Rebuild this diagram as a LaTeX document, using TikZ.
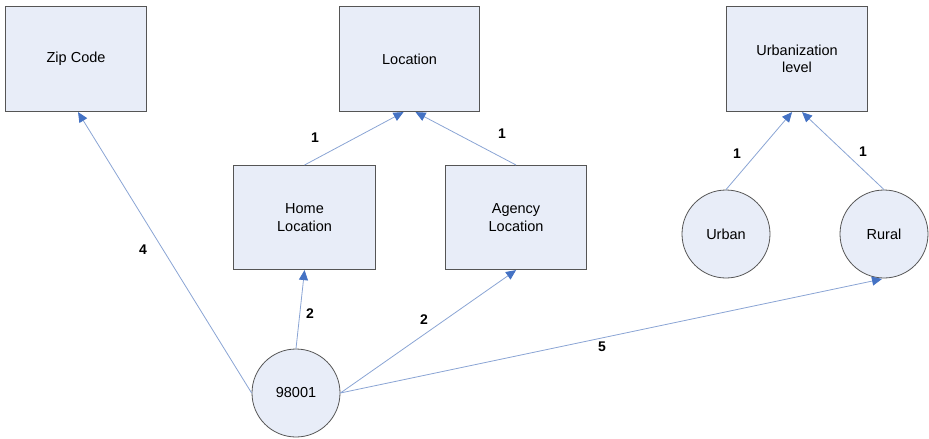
\documentclass[tikz,border=0pt]{standalone}
\usepackage{fontspec}
\setmainfont{Liberation Sans}
\usetikzlibrary{arrows.meta,calc}
\definecolor{boxfill}{HTML}{E8EDF8}
\definecolor{boxline}{HTML}{555555}
\definecolor{connc}{HTML}{8AA4D4}
\definecolor{tipc}{HTML}{4472C4}
\begin{document}
\begin{tikzpicture}[x=1pt,y=-1pt,
  box/.style={draw=boxline,fill=boxfill,line width=1.1pt,minimum width=141pt,minimum height=105pt,inner sep=0pt,align=center,font=\fontsize{14.5}{17.5}\selectfont,anchor=north west},
  circ/.style={draw=boxline,fill=boxfill,line width=0.8pt,circle,minimum size=88pt,inner sep=0pt,font=\fontsize{14.5}{17.5}\selectfont},
  link/.style={draw=connc,line width=0.8pt,-{Triangle[length=10pt,width=9pt,fill=tipc,color=tipc]}},
  lab/.style={font=\bfseries\fontsize{14}{17}\selectfont}]
\useasboundingbox (0,0) rectangle (929,439);
\node[box] (zip) at (5,6) {Zip Code};
\node[box,minimum width=140pt] (loc) at (339,6) {Location};
\node[box] (urb) at (726,6) {Urbanization\\level};
\node[box,minimum width=142pt,minimum height=104pt] (home) at (233,165) {Home\\Location};
\node[box,minimum height=104pt] (agency) at (445,165) {Agency\\Location};
\node[circ] (urban) at (726,234) {Urban};
\node[circ] (rural) at (884,234) {Rural};
\node[circ] (c98) at (296,393) {98001};
\coordinate (locL) at ($(loc.south)+(-6,0)$);
\coordinate (locR) at ($(loc.south)+(6,0)$);
\coordinate (urbL) at ($(urb.south)+(-5,0)$);
\coordinate (urbR) at ($(urb.south)+(5,0)$);
\coordinate (zipT) at ($(zip.south)+(2,0)$);
\coordinate (ruralT) at ($(rural.center)+(-2,45)$);
\draw[link] (home.north) -- (locL);
\draw[link] (agency.north) -- (locR);
\draw[link] (urban.north) -- (urbL);
\draw[link] (rural.north) -- (urbR);
\draw[link] (c98.west) -- (zipT);
\draw[link] (c98.north) -- (home.south);
\draw[link] (c98.east) -- (agency.south);
\draw[link] (c98.east) -- (ruralT);
\node[lab] (l1) at (315,138) {1};
\node[lab] (l2) at (502,134) {1};
\node[lab] (l3) at (737,154) {1};
\node[lab] (l4) at (863,152) {1};
\node[lab] (l5) at (143,250) {4};
\node[lab] (l6) at (310,314) {2};
\node[lab] (l7) at (424,320) {2};
\node[lab] (l8) at (602,347) {5};
\end{tikzpicture}
\end{document}
